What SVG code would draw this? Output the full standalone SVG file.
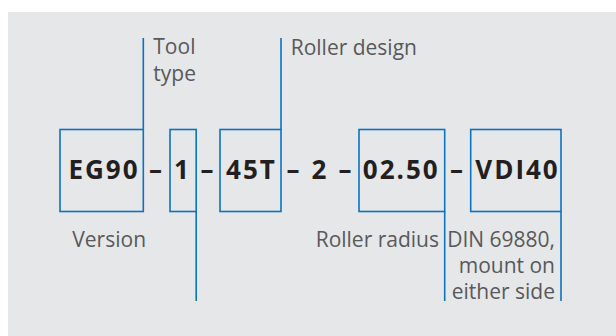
<svg xmlns="http://www.w3.org/2000/svg" width="616" height="336" viewBox="0 0 616 336">
<style>
.lbl{font-family:"Open Sans","Noto Sans",sans-serif;font-size:21px;fill:#58595b}
.code{font-family:"Open Sans","Noto Sans",sans-serif;font-size:26px;font-weight:bold;fill:#231f20;letter-spacing:2px}
.box{fill:none;stroke:#0a74c0;stroke-width:1.6}
.ln{stroke:#0a74c0;stroke-width:1.6;fill:none}
</style>
<rect x="8" y="12" width="608" height="324" fill="#e6e7e9"/>
<g id="connectors">
<line class="ln" x1="143.3" y1="38" x2="143.3" y2="129.5"/>
<line class="ln" x1="281" y1="38" x2="281" y2="129.5"/>
<line class="ln" x1="196.2" y1="211.5" x2="196.2" y2="301"/>
<line class="ln" x1="444.7" y1="211.5" x2="444.7" y2="301"/>
<line class="ln" x1="561" y1="211.5" x2="561" y2="301"/>
</g>
<g id="version">
<rect class="box" x="60" y="129.5" width="83.3" height="82"/>
<text class="code" x="104" y="178.5" text-anchor="middle">EG90</text>
<text class="lbl" x="72.3" y="246.7">Version</text>
</g>
<text class="code" x="156.5" y="178.5" text-anchor="middle">–</text>
<g id="tooltype">
<rect class="box" x="170" y="129.5" width="26.2" height="82"/>
<text class="code" x="182.5" y="178.5" text-anchor="middle">1</text>
<text class="lbl" x="153.3" y="54.3">Tool</text>
<text class="lbl" x="153.3" y="81">type</text>
</g>
<text class="code" x="208" y="178.5" text-anchor="middle">–</text>
<g id="rollerdesign">
<rect class="box" x="220" y="129.5" width="61" height="82"/>
<text class="code" x="251.5" y="178.5" text-anchor="middle">45T</text>
<text class="lbl" x="290.7" y="55">Roller design</text>
</g>
<text class="code" x="294" y="178.5" text-anchor="middle">–</text>
<text class="code" x="320" y="178.5" text-anchor="middle">2</text>
<text class="code" x="346" y="178.5" text-anchor="middle">–</text>
<g id="rollerradius">
<rect class="box" x="359" y="129.5" width="85.7" height="82"/>
<text class="code" x="401.3" y="178.5" text-anchor="middle">02.50</text>
<text class="lbl" x="439" y="246.7" text-anchor="end">Roller radius</text>
</g>
<text class="code" x="457.5" y="178.5" text-anchor="middle">–</text>
<g id="mount">
<rect class="box" x="470.7" y="129.5" width="90.3" height="82"/>
<text class="code" x="517.5" y="178.5" text-anchor="middle">VDI40</text>
<text class="lbl" x="555" y="246.7" text-anchor="end">DIN 69880,</text>
<text class="lbl" x="555" y="273" text-anchor="end">mount on</text>
<text class="lbl" x="555" y="299" text-anchor="end">either side</text>
</g>
</svg>
